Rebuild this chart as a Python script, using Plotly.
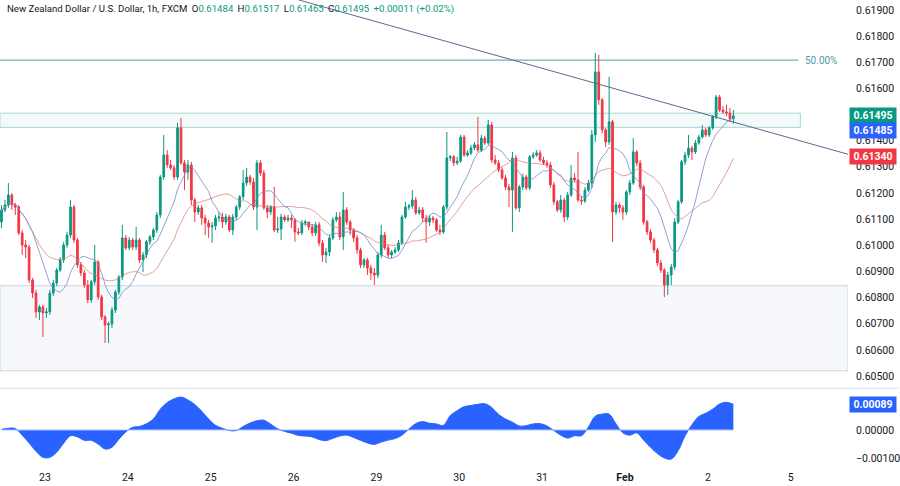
import pandas as pd
import plotly.graph_objects as go


# NZDUSD 1h candles, Jan 22 - Feb 2
CLOSE = [
    0.61135, 0.61154, 0.61192, 0.61154, 0.61146, 0.61047, 0.61001, 0.60993, 0.60867, 0.60817,
    0.60745, 0.60764, 0.60741, 0.60745, 0.60817, 0.60856, 0.60905, 0.60944, 0.61001, 0.61039,
    0.61146, 0.61020, 0.60925, 0.60894, 0.60848, 0.60791, 0.60860, 0.60936, 0.60802, 0.60726,
    0.60695, 0.60699, 0.60752, 0.60821, 0.60879, 0.61028, 0.60990, 0.61020, 0.60993, 0.61020,
    0.60944, 0.60963, 0.61013, 0.61032, 0.61058, 0.61116, 0.61261, 0.61345, 0.61307, 0.61296,
    0.61261, 0.61449, 0.61315, 0.61280, 0.61307, 0.61173, 0.61127, 0.61143, 0.61104, 0.61085,
    0.61070, 0.61074, 0.61104, 0.61108, 0.61089, 0.61108, 0.61058, 0.61108, 0.61146, 0.61185,
    0.61238, 0.61261, 0.61242, 0.61146, 0.61315, 0.61276, 0.61143, 0.61127, 0.61146, 0.61058,
    0.61062, 0.61108, 0.61097, 0.61104, 0.61097, 0.61051, 0.61047, 0.61085, 0.61089, 0.61070,
    0.61047, 0.61078, 0.61009, 0.60963, 0.60974, 0.61028, 0.61097, 0.61108, 0.61032, 0.61135,
    0.61089, 0.61058, 0.61028, 0.60982, 0.60925, 0.60944, 0.60913, 0.60894, 0.60886, 0.60963,
    0.61039, 0.60990, 0.60963, 0.60974, 0.60982, 0.61009, 0.61108, 0.61146, 0.61150, 0.61173,
    0.61124, 0.61135, 0.61104, 0.61089, 0.61104, 0.61097, 0.61058, 0.61051, 0.61146, 0.61334,
    0.61338, 0.61315, 0.61322, 0.61414, 0.61345, 0.61353, 0.61372, 0.61384, 0.61364, 0.61410,
    0.61391, 0.61460, 0.61326, 0.61315, 0.61288, 0.61257, 0.61223, 0.61211, 0.61334, 0.61143,
    0.61223, 0.61261, 0.61219, 0.61338, 0.61345, 0.61353, 0.61326, 0.61315, 0.61307, 0.61231,
    0.61166, 0.61135, 0.61173, 0.61108, 0.61192, 0.61257, 0.61250, 0.61173, 0.61169, 0.61211,
    0.61238, 0.61422, 0.61663, 0.61556, 0.61441, 0.61395, 0.61472, 0.61127, 0.61154, 0.61143,
    0.61127, 0.61204, 0.61238, 0.61357, 0.61315, 0.61223, 0.61089, 0.61051, 0.61020, 0.60982,
    0.60932, 0.60905, 0.60848, 0.60886, 0.60917, 0.61089, 0.61166, 0.61319, 0.61345, 0.61372,
    0.61357, 0.61391, 0.61414, 0.61441, 0.61422, 0.61449, 0.61491, 0.61567, 0.61517, 0.61510,
    0.61506, 0.61484, 0.61495,
]
HIGH = [
    0.61154, 0.61173, 0.61238, 0.61200, 0.61162, 0.61154, 0.61058, 0.61020, 0.61001, 0.60875,
    0.60829, 0.60772, 0.60772, 0.60760, 0.60829, 0.60867, 0.60913, 0.60955, 0.61013, 0.61051,
    0.61173, 0.61154, 0.61028, 0.60936, 0.60905, 0.60867, 0.60867, 0.61001, 0.60944, 0.60810,
    0.60733, 0.60707, 0.60764, 0.60829, 0.60886, 0.61078, 0.61039, 0.61032, 0.61028, 0.61070,
    0.61028, 0.60974, 0.61020, 0.61039, 0.61066, 0.61127, 0.61269, 0.61422, 0.61364, 0.61326,
    0.61307, 0.61468, 0.61487, 0.61326, 0.61326, 0.61319, 0.61181, 0.61154, 0.61154, 0.61116,
    0.61097, 0.61089, 0.61116, 0.61127, 0.61124, 0.61120, 0.61116, 0.61120, 0.61154, 0.61192,
    0.61288, 0.61296, 0.61269, 0.61257, 0.61326, 0.61326, 0.61288, 0.61154, 0.61154, 0.61223,
    0.61108, 0.61120, 0.61116, 0.61116, 0.61116, 0.61104, 0.61066, 0.61097, 0.61097, 0.61089,
    0.61081, 0.61089, 0.61089, 0.61020, 0.60990, 0.61039, 0.61108, 0.61127, 0.61127, 0.61204,
    0.61146, 0.61097, 0.61066, 0.61039, 0.60990, 0.60951, 0.60951, 0.60925, 0.60913, 0.60974,
    0.61078, 0.61051, 0.61001, 0.60982, 0.60993, 0.61020, 0.61116, 0.61166, 0.61158, 0.61211,
    0.61185, 0.61146, 0.61146, 0.61116, 0.61116, 0.61112, 0.61104, 0.61078, 0.61154, 0.61433,
    0.61345, 0.61345, 0.61338, 0.61422, 0.61422, 0.61364, 0.61384, 0.61395, 0.61491, 0.61422,
    0.61418, 0.61479, 0.61472, 0.61345, 0.61326, 0.61299, 0.61269, 0.61234, 0.61357, 0.61345,
    0.61231, 0.61273, 0.61269, 0.61345, 0.61357, 0.61364, 0.61364, 0.61338, 0.61326, 0.61319,
    0.61242, 0.61173, 0.61192, 0.61181, 0.61204, 0.61307, 0.61276, 0.61357, 0.61189, 0.61223,
    0.61250, 0.61441, 0.61736, 0.61728, 0.61563, 0.61449, 0.61644, 0.61479, 0.61166, 0.61162,
    0.61154, 0.61211, 0.61250, 0.61410, 0.61364, 0.61326, 0.61231, 0.61097, 0.61062, 0.61028,
    0.60990, 0.60944, 0.60913, 0.60898, 0.60928, 0.61104, 0.61173, 0.61326, 0.61357, 0.61422,
    0.61380, 0.61403, 0.61422, 0.61460, 0.61449, 0.61456, 0.61498, 0.61575, 0.61575, 0.61533,
    0.61537, 0.61525, 0.61517,
]
LOW = [
    0.61066, 0.61127, 0.61143, 0.61135, 0.61116, 0.61039, 0.60963, 0.60951, 0.60856, 0.60798,
    0.60722, 0.60714, 0.60649, 0.60722, 0.60733, 0.60806, 0.60844, 0.60898, 0.60932, 0.60990,
    0.61028, 0.61009, 0.60913, 0.60882, 0.60837, 0.60779, 0.60779, 0.60848, 0.60791, 0.60714,
    0.60626, 0.60626, 0.60684, 0.60741, 0.60810, 0.60867, 0.60982, 0.60982, 0.60982, 0.60982,
    0.60932, 0.60898, 0.60951, 0.61001, 0.61020, 0.61047, 0.61104, 0.61250, 0.61296, 0.61288,
    0.61250, 0.61250, 0.61307, 0.61211, 0.61250, 0.61154, 0.61089, 0.61116, 0.61078, 0.61039,
    0.61028, 0.61009, 0.61058, 0.61089, 0.61066, 0.61078, 0.61051, 0.61039, 0.61097, 0.61135,
    0.61173, 0.61227, 0.61231, 0.61135, 0.61058, 0.61265, 0.61135, 0.61104, 0.61116, 0.61051,
    0.61047, 0.61020, 0.61089, 0.61089, 0.61066, 0.61013, 0.61039, 0.61039, 0.61074, 0.61058,
    0.61035, 0.61035, 0.60997, 0.60936, 0.60932, 0.60959, 0.61020, 0.61089, 0.61020, 0.60982,
    0.61078, 0.61039, 0.61013, 0.60967, 0.60913, 0.60913, 0.60886, 0.60867, 0.60848, 0.60875,
    0.60951, 0.60982, 0.60951, 0.60951, 0.60967, 0.60974, 0.61001, 0.61101, 0.61135, 0.61139,
    0.61116, 0.61116, 0.61089, 0.61009, 0.61074, 0.61085, 0.61051, 0.61039, 0.61043, 0.61135,
    0.61322, 0.61303, 0.61307, 0.61315, 0.61338, 0.61338, 0.61345, 0.61364, 0.61357, 0.61357,
    0.61384, 0.61384, 0.61315, 0.61307, 0.61280, 0.61250, 0.61211, 0.61146, 0.61051, 0.61135,
    0.61127, 0.61211, 0.61211, 0.61211, 0.61330, 0.61338, 0.61319, 0.61307, 0.61296, 0.61219,
    0.61154, 0.61127, 0.61124, 0.61089, 0.61097, 0.61185, 0.61242, 0.61166, 0.61154, 0.61162,
    0.61204, 0.61219, 0.61395, 0.61537, 0.61429, 0.61376, 0.61384, 0.61013, 0.61116, 0.61124,
    0.61097, 0.61116, 0.61192, 0.61231, 0.61303, 0.61211, 0.61078, 0.61039, 0.61009, 0.60970,
    0.60921, 0.60894, 0.60802, 0.60810, 0.60848, 0.60905, 0.61081, 0.61158, 0.61307, 0.61334,
    0.61326, 0.61349, 0.61384, 0.61407, 0.61414, 0.61414, 0.61441, 0.61483, 0.61510, 0.61502,
    0.61494, 0.61472, 0.61465,
]
FIRST_OPEN = 0.61089
OPEN = [FIRST_OPEN] + CLOSE[:-1]

# oscillator pane, read every second bar
OSC_BARS = list(range(0, 213, 2))
OSC = [
    0.00002, 0.00006, 0.00005, -0.00018, -0.00045, -0.00074, -0.00095, -0.00095, -0.00077, -0.00046,
    -0.00020, -0.00024, -0.00036, -0.00036, -0.00049, -0.00066, -0.00060, -0.00032, -0.00007, 0.00009,
    0.00012, 0.00022, 0.00038, 0.00072, 0.00095, 0.00108, 0.00114, 0.00104, 0.00088, 0.00065,
    0.00038, 0.00016, 0.00006, -0.00002, -0.00002, 0.00012, 0.00024, 0.00032, 0.00034, 0.00020,
    0.00004, -0.00005, -0.00011, -0.00019, -0.00021, -0.00024, -0.00033, -0.00037, -0.00029, -0.00021,
    -0.00018, -0.00026, -0.00036, -0.00045, -0.00050, -0.00042, -0.00035, -0.00030, -0.00018, 0.00003,
    0.00022, 0.00029, 0.00023, 0.00021, 0.00016, 0.00050, 0.00067, 0.00081, 0.00085, 0.00089,
    0.00091, 0.00078, 0.00054, 0.00038, 0.00027, 0.00014, 0.00015, 0.00021, 0.00022, 0.00014,
    -0.00002, -0.00018, -0.00028, -0.00020, -0.00020, 0.00010, 0.00048, 0.00055, 0.00055, 0.00021,
    -0.00010, -0.00018, -0.00010, -0.00035, -0.00060, -0.00082, -0.00097, -0.00101, -0.00072, -0.00020,
    0.00018, 0.00047, 0.00058, 0.00072, 0.00090, 0.00096, 0.00089,
]

# chart drawings
TREND_X = [80, 246]
TREND_Y = [0.61961, 0.61345]
FIB_50 = 0.61708
FIB_END = 230.8
ZONE_TOP = (0.61451, 0.61505)
ZONE_TOP_END = 231.4
ZONE_LOW = (0.60520, 0.60845)

# x axis: day starts
DAY_TICKS = [12.6, 36.6, 60.6, 84.6, 108.6, 132.6, 156.6, 180.6, 204.6, 228.6]
DAY_LABELS = ["23", "24", "25", "26", "29", "30", "31", "<b>Feb</b>", "2", "5"]
PRICE_TICKS = [0.605 + 0.001 * k for k in range(15)]

LAST_PRICE = 0.61495
LAST_FAST_MA = 0.61485
LAST_SLOW_MA = 0.61340
LAST_OSC = 0.00089

UP = "#089981"
DOWN = "#F23645"
BLUE = "#2962FF"
TEXT = "#131722"
FONT = "Roboto"

X_RANGE = [-0.43, 245.2]

bars = list(range(len(CLOSE)))
closes = pd.Series(CLOSE)
fast_ma = closes.rolling(10, min_periods=1).mean()
slow_ma = closes.rolling(21, min_periods=1).mean()

fig = go.Figure()

fig.add_trace(go.Candlestick(
    x=bars, open=OPEN, high=HIGH, low=LOW, close=CLOSE,
    increasing=dict(line=dict(color=UP, width=1), fillcolor=UP),
    decreasing=dict(line=dict(color=DOWN, width=1), fillcolor=DOWN),
    whiskerwidth=0, hoverinfo="skip", showlegend=False,
    xaxis="x", yaxis="y",
))
fig.add_trace(go.Scatter(
    x=bars, y=slow_ma, mode="lines", line=dict(color="rgba(214,120,120,0.7)", width=1),
    hoverinfo="skip", showlegend=False, xaxis="x", yaxis="y",
))
fig.add_trace(go.Scatter(
    x=bars, y=fast_ma, mode="lines", line=dict(color="rgba(120,138,200,0.8)", width=1),
    hoverinfo="skip", showlegend=False, xaxis="x", yaxis="y",
))
fig.add_trace(go.Scatter(
    x=TREND_X, y=TREND_Y, mode="lines", line=dict(color="#5a6a8c", width=1),
    hoverinfo="skip", showlegend=False, xaxis="x", yaxis="y",
))

fig.add_trace(go.Scatter(
    x=OSC_BARS, y=OSC, mode="lines", line=dict(color=BLUE, width=1, shape="spline"),
    fill="tozeroy", fillcolor=BLUE, hoverinfo="skip", showlegend=False,
    xaxis="x2", yaxis="y2",
))
fig.add_trace(go.Scatter(
    x=[0, OSC_BARS[-1]], y=[0, 0], mode="lines", line=dict(color="#a9c0ff", width=1),
    hoverinfo="skip", showlegend=False, xaxis="x2", yaxis="y2",
))

shapes = [
    dict(type="rect", xref="x", yref="y", x0=X_RANGE[0], x1=X_RANGE[1],
         y0=ZONE_LOW[0], y1=ZONE_LOW[1], fillcolor="#f6f8fc",
         line=dict(color="#cdd5e2", width=1), layer="below"),
    dict(type="rect", xref="x", yref="y", x0=X_RANGE[0], x1=ZONE_TOP_END,
         y0=ZONE_TOP[0], y1=ZONE_TOP[1], fillcolor="rgba(178,223,223,0.14)",
         line=dict(color="#a6d6d6", width=1), layer="below"),
    dict(type="line", xref="x", yref="y", x0=X_RANGE[0], x1=FIB_END,
         y0=FIB_50, y1=FIB_50, line=dict(color="#4f9e9e", width=1), layer="below"),
    dict(type="line", xref="paper", yref="paper", x0=0, x1=1.06, y0=0.1612, y1=0.1612,
         line=dict(color="#e0e3eb", width=1)),
]

gap = "\u00a0\u2009"
header = (
    f"New Zealand Dollar / U.S. Dollar, 1h, FXCM{gap}"
    f"O<span style='color:{UP}'>0.61484</span>{gap}"
    f"H<span style='color:{UP}'>0.61517</span>{gap}"
    f"L<span style='color:{UP}'>0.61465</span>{gap}"
    f"C<span style='color:{UP}'>0.61495</span>{gap}"
    f"<span style='color:{UP}'>+0.00011 (+0.02%)</span>"
)


def price_tag(y, text, color, yref="y", yshift=0):
    return dict(
        xref="paper", yref=yref, x=1, y=y, xanchor="left", yanchor="middle",
        text=f"<b>{text}</b>", showarrow=False, bgcolor=color, width=46, height=15,
        align="center", font=dict(family=FONT, size=10.5, color="white"),
        xshift=1, yshift=yshift, borderpad=0,
    )


annotations = [
    dict(xref="paper", yref="paper", x=0, y=1, xanchor="left", yanchor="top",
         xshift=5, yshift=-1, text=header, showarrow=False,
         font=dict(family=FONT, size=9.6, color=TEXT)),
    dict(xref="x", yref="y", x=FIB_END + 1.5, y=FIB_50, xanchor="left", yanchor="middle",
         text="50.00%", showarrow=False, font=dict(family=FONT, size=10, color="#4f9e9e")),
    price_tag(LAST_PRICE, f"{LAST_PRICE:.5f}", UP),
    price_tag(LAST_FAST_MA, f"{LAST_FAST_MA:.5f}", BLUE, yshift=-12),
    price_tag(LAST_SLOW_MA, f"{LAST_SLOW_MA:.5f}", DOWN),
    price_tag(LAST_OSC, f"{LAST_OSC:.5f}", BLUE, yref="y2"),
]

axis_font = dict(family=FONT, size=10.5, color=TEXT)

fig.update_layout(
    width=900, height=486,
    margin=dict(l=0, r=50, t=0, b=23),
    paper_bgcolor="white", plot_bgcolor="white",
    showlegend=False, hovermode=False,
    xaxis=dict(domain=[0, 1], range=X_RANGE, anchor="y", showticklabels=False,
               showgrid=False, zeroline=False, rangeslider=dict(visible=False)),
    yaxis=dict(domain=[0.162, 1], range=[0.60454, 0.61938], side="right", anchor="x",
               tickvals=PRICE_TICKS, ticktext=[f"{v:.5f}" for v in PRICE_TICKS],
               showgrid=False, zeroline=False, ticks="", ticklabelstandoff=7,
               tickfont=axis_font),
    xaxis2=dict(domain=[0, 1], range=X_RANGE, anchor="y2", matches="x",
                tickvals=DAY_TICKS, ticktext=DAY_LABELS, showgrid=False,
                zeroline=False, ticks="", ticklabelstandoff=6, tickfont=axis_font),
    yaxis2=dict(domain=[0, 0.160], range=[-0.001146, 0.001424], side="right", anchor="x2",
                tickvals=[-0.001, 0.0], ticktext=["\u22120.00100", "0.00000"],
                showgrid=False, zeroline=False, ticks="", ticklabelstandoff=7,
                tickfont=axis_font),
    shapes=shapes,
    annotations=annotations,
)

fig.write_html(
    "out.html",
    config=dict(displayModeBar=False),
    post_script="document.body.style.margin='0';document.body.style.overflow='hidden';",
)
